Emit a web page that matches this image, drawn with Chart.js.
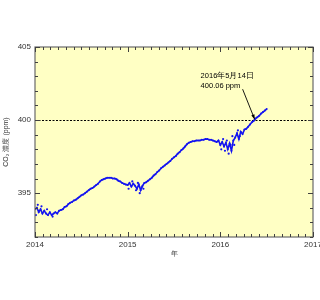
<!DOCTYPE html>
<html>
<head>
<meta charset="utf-8">
<script src="https://cdn.jsdelivr.net/npm/chart.js@4.4.0/dist/chart.umd.min.js"></script>
<style>
html,body{margin:0;padding:0;background:#fff;overflow:hidden;width:320px;height:300px;}
#wrap{width:332px;height:300px;}
</style>
</head>
<body>
<div id="wrap"><canvas id="c" width="332" height="300"></canvas></div>
<script>
// ---- data (decimal year, CO2 ppm) ----
const dates = [];
for (let i = 0; i <= 125; i++) dates.push(+(2014 + i * 0.02).toFixed(2));
const values = [
393.9,394.0,393.7,393.9,393.6,393.8,393.6,393.5,393.7,393.5,
393.6,393.7,393.6,393.8,393.85,393.9,394.05,394.1,394.25,394.35,
394.4,394.5,394.55,394.65,394.75,394.85,394.9,395.0,395.1,395.2,
395.3,395.35,395.45,395.55,395.65,395.8,395.9,395.95,396.0,396.05,
396.05,396.05,396.0,396.0,395.95,395.85,395.8,395.7,395.65,395.6,
395.55,395.7,395.45,395.65,395.5,395.3,395.6,395.2,395.5,395.7,
395.75,395.85,395.95,396.05,396.2,396.3,396.45,396.55,396.7,396.8,
396.9,397.0,397.1,397.2,397.35,397.45,397.55,397.7,397.8,397.95,
398.05,398.2,398.35,398.45,398.5,398.55,398.55,398.6,398.6,398.6,
398.65,398.65,398.7,398.7,398.65,398.65,398.6,398.55,398.5,398.6,
398.3,398.5,398.2,398.45,398.0,398.4,397.9,398.6,398.8,399.1,
398.7,399.2,399.05,399.35,399.4,399.55,399.7,399.85,399.95,400.1,
400.2,400.3,400.45,400.55,400.65,400.75
];
const extraDates = [2014.01,2014.03,2014.07,2014.13,2014.19,2015.01,2015.05,2015.09,2015.11,2015.13,2015.15,2015.17,2016.01,2016.03,2016.05,2016.07,2016.09,2016.11,2016.13,2016.15,2016.19,2016.21];
const extraValues = [393.5,394.2,394.1,393.9,393.4,395.3,395.8,395.2,395.7,395.0,395.4,395.3,398.0,398.7,397.9,398.6,397.7,398.3,398.9,398.3,399.3,398.9];
const xTickLabels = [2014, 2015, 2016, 2017];
const yTickLabels = [395, 400, 405];
const refLevel = 400;
const noteDate = 2016.37, noteValue = 400.06;
const noteLines = ['2016年5月14日', '400.06 ppm'];

const mainPts = dates.map((d, i) => ({x: d, y: values[i]}));
const extraPts = extraDates.map((d, i) => ({x: d, y: extraValues[i]}));

const FONT = "'Liberation Sans', 'DejaVu Sans', sans-serif";
const BLUE = 'rgb(20,20,240)';

const decor = {
  id: 'decor',
  beforeDraw(chart) {
    const {ctx, chartArea: a} = chart;
    ctx.save();
    ctx.fillStyle = '#fff';
    ctx.fillRect(0, 0, chart.width, chart.height);
    ctx.fillStyle = '#ffffc4';
    ctx.fillRect(a.left, a.top, a.right - a.left, a.bottom - a.top);
    ctx.restore();
  },
  beforeDatasetsDraw(chart) {
    const {ctx, chartArea: a, scales} = chart;
    const y = Math.round(scales.y.getPixelForValue(refLevel)) + 0.5;
    ctx.save();
    ctx.strokeStyle = '#000';
    ctx.lineWidth = 1.2;
    ctx.setLineDash([2, 1.5]);
    ctx.beginPath();
    ctx.moveTo(a.left, y); ctx.lineTo(a.right, y);
    ctx.stroke();
    ctx.restore();
  },
  afterDraw(chart) {
    const {ctx, chartArea: a, scales} = chart;
    const xs = scales.x, ys = scales.y;
    ctx.save();
    // frame
    ctx.strokeStyle = '#6a6a6a';
    ctx.lineWidth = 1.2;
    ctx.setLineDash([]);
    ctx.strokeRect(a.left, a.top, a.right - a.left, a.bottom - a.top);
    // inward ticks
    ctx.fillStyle = '#404040';
    for (let m = 0; m <= 36; m++) {
      const px = Math.round(xs.getPixelForValue(xTickLabels[0] + m / 12));
      const len = (m % 12 === 0) ? 5 : 3;
      ctx.fillRect(px, a.bottom - len, 1, len);
      ctx.fillRect(px, a.top, 1, len);
    }
    for (let v = 392; v <= 405; v++) {
      const py = Math.round(ys.getPixelForValue(v));
      const len = (v % 5 === 0) ? 5 : 3;
      ctx.fillRect(a.left, py, len, 1);
      ctx.fillRect(a.right - len, py, len, 1);
    }
    // annotation
    const tx = xs.getPixelForValue(noteDate), ty = ys.getPixelForValue(noteValue);
    const sx = tx - 12, sy = ty - 30;
    ctx.strokeStyle = '#000';
    ctx.fillStyle = '#000';
    ctx.lineWidth = 0.9;
    ctx.beginPath(); ctx.moveTo(sx, sy); ctx.lineTo(tx, ty); ctx.stroke();
    const ang = Math.atan2(ty - sy, tx - sx);
    ctx.beginPath();
    ctx.moveTo(tx, ty);
    ctx.lineTo(tx - 5 * Math.cos(ang - 0.35), ty - 5 * Math.sin(ang - 0.35));
    ctx.lineTo(tx - 5 * Math.cos(ang + 0.35), ty - 5 * Math.sin(ang + 0.35));
    ctx.closePath(); ctx.fill();
    ctx.font = "7.5px " + FONT;
    ctx.textBaseline = 'middle';
    ctx.textAlign = 'left';
    ctx.fillText(noteLines[0], tx - 54, ty - 43);
    ctx.fillText(noteLines[1], tx - 54, ty - 33);
    ctx.restore();
  }
};

new Chart(document.getElementById('c'), {
  type: 'scatter',
  data: {
    datasets: [{
      data: mainPts,
      showLine: true,
      borderColor: BLUE,
      borderWidth: 1.6,
      backgroundColor: BLUE,
      pointRadius: 1,
      pointBorderWidth: 0,
      pointHoverRadius: 1
    }, {
      data: extraPts,
      backgroundColor: BLUE,
      borderColor: BLUE,
      pointRadius: 1.1,
      pointBorderWidth: 0,
      pointHoverRadius: 1.1
    }]
  },
  options: {
    responsive: false,
    animation: false,
    events: [],
    layout: {padding: {left: 0, right: 19, top: 47, bottom: 42}},
    plugins: {legend: {display: false}, tooltip: {enabled: false}},
    scales: {
      x: {
        type: 'linear',
        min: xTickLabels[0], max: xTickLabels[xTickLabels.length - 1],
        afterBuildTicks: s => { s.ticks = xTickLabels.map(v => ({value: v})); },
        afterFit: s => { s.height = 21; },
        grid: {display: false, drawTicks: false},
        border: {display: false},
        ticks: {
          font: {size: 8, family: FONT}, color: '#333', padding: 3,
          maxRotation: 0, autoSkip: false,
          callback: v => String(v)
        },
        title: {display: true, text: '年', font: {size: 7, family: FONT}, color: '#333', padding: {top: 0, bottom: 0}}
      },
      y: {
        min: 392, max: 405,
        afterBuildTicks: s => { s.ticks = yTickLabels.map(v => ({value: v})); },
        afterFit: s => { s.width = 35; },
        grid: {display: false, drawTicks: false},
        border: {display: false},
        ticks: {font: {size: 8, family: FONT}, color: '#333', padding: 4, callback: v => String(v)},
        title: {display: true, text: 'CO₂ 濃度 (ppm)', font: {size: 7, family: FONT}, color: '#333', padding: {top: 2, bottom: 0}}
      }
    }
  },
  plugins: [decor]
});
</script>
</body>
</html>
